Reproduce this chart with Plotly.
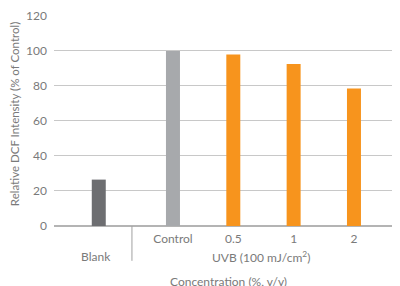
import plotly.graph_objects as go

categories = ["Blank", "Control", "0.5", "1", "2"]
values = [26.5, 100, 98, 92.5, 78.5]
colors = ["#6d6e71", "#a7a9ac", "#f7941d", "#f7941d", "#f7941d"]
y_ticks = [0, 20, 40, 60, 80, 100, 120]

# layout slot positions (axis units)
slot = [-0.23, 1, 2, 3, 4]

font = "Lato, Open Sans, sans-serif"
txt = "#7a7a7a"

fig = go.Figure()
fig.add_trace(go.Bar(
    x=slot, y=values, marker=dict(color=colors, line=dict(width=0)),
    width=0.232, showlegend=False, hoverinfo="skip"))

# page body has an 8px margin, so the figure is sized to end at the window edge
fig.update_layout(
    width=392, height=278,
    margin=dict(l=46, r=0, t=4, b=60),
    paper_bgcolor="white", plot_bgcolor="white",
    font=dict(family=font, size=12, color=txt),
    xaxis=dict(range=[-0.972, 4.763], tickvals=slot[1:], ticktext=categories[1:],
               showgrid=False, zeroline=False, showline=False, ticks="",
               tickfont=dict(size=12, color=txt), ticklabelstandoff=4, fixedrange=True),
    yaxis=dict(range=[0, 120.5], tickvals=y_ticks, showgrid=True, gridcolor="#c8c8c8",
               gridwidth=1, zeroline=True, zerolinecolor="#b4b4b4", zerolinewidth=1.5,
               showline=False, ticks="", tickfont=dict(size=12, color=txt),
               ticklabelstandoff=6, ticklabeloverflow="allow", fixedrange=True),
)

fig.add_annotation(x=0, xref="paper", xshift=-40, y=0.53, yref="paper",
                   text="Relative DCF Intensity (% of Control)", textangle=-90,
                   showarrow=False, font=dict(size=11.5, color=txt),
                   xanchor="center", yanchor="middle")
fig.add_shape(type="line", xref="x", yref="paper", x0=0.32, x1=0.32, y0=0, y1=-0.165,
              line=dict(color="#a0a0a0", width=1))
fig.add_annotation(x=-0.27, y=-0.145, xref="x", yref="paper", text="Blank",
                   showarrow=False, font=dict(size=12, color=txt), yanchor="middle")
fig.add_annotation(x=2.46, y=-0.145, xref="x", yref="paper", text="UVB (100 mJ/cm<sup>2</sup>)",
                   showarrow=False, font=dict(size=12, color=txt), yanchor="middle")
fig.add_annotation(x=1.92, y=-0.262, xref="x", yref="paper", text="Concentration (%, v/v)",
                   showarrow=False, font=dict(size=12, color=txt), yanchor="middle")

fig.write_html("out.html")
